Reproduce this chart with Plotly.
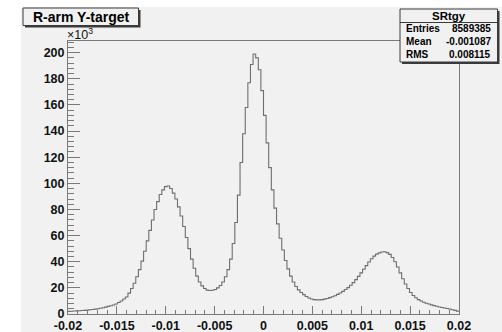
import numpy as np
import plotly.graph_objects as go

# Histogram SRtgy: R-arm target y, 150 bins on [-0.02, 0.02], counts in units of 10^3
x_min, x_max, n_bins = -0.02, 0.02, 150
counts_k = [
    2.0, 2.1, 2.3, 2.4, 2.5, 2.7, 2.8, 3.0, 3.2, 3.4,
    3.7, 4.0, 4.4, 4.8, 5.3, 5.8, 6.3, 6.9, 7.6, 8.8,
    10.0, 11.5, 13.0, 16.0, 19.5, 23.5, 28.5, 34.0, 40.5, 48.0,
    56.0, 64.0, 72.0, 80.0, 86.0, 91.5, 95.0, 97.5, 98.0, 96.0,
    92.5, 88.0, 82.0, 75.0, 67.0, 58.5, 50.0, 42.0, 35.0, 29.0,
    24.5, 21.5, 19.5, 18.3, 18.0, 18.2, 18.8, 20.0, 21.8, 24.5,
    28.5, 34.0, 42.0, 54.0, 70.0, 91.0, 116.0, 138.0, 158.0, 177.0,
    191.0, 199.0, 196.0, 187.0, 171.0, 152.0, 131.0, 112.0, 95.0, 81.0,
    69.0, 58.0, 49.0, 41.0, 34.5, 29.0, 24.5, 21.0, 18.5, 16.5,
    14.8, 13.4, 12.3, 11.5, 11.0, 10.8, 10.8, 11.0, 11.4, 11.9,
    12.5, 13.2, 14.0, 15.0, 16.1, 17.3, 18.7, 20.2, 22.0, 24.0,
    26.3, 28.8, 31.5, 34.2, 37.0, 39.8, 42.3, 44.3, 45.8, 46.8,
    47.4, 47.6, 47.0, 45.6, 43.3, 40.0, 36.0, 31.5, 27.0, 23.0,
    19.5, 16.5, 14.2, 12.4, 11.0, 9.9, 9.0, 8.2, 7.6, 7.0,
    6.4, 5.9, 5.4, 5.0, 4.6, 4.2, 3.8, 3.3, 2.8, 2.2,
]

x_tickvals = [-0.02, -0.015, -0.01, -0.005, 0, 0.005, 0.01, 0.015, 0.02]
x_ticktext = ["-0.02", "-0.015", "-0.01", "-0.005", "0", "0.005", "0.01", "0.015", "0.02"]
y_tickvals = [0, 20, 40, 60, 80, 100, 120, 140, 160, 180, 200]

hist_title = "R-arm Y-target"
stats_name = "SRtgy"
stats_labels = ["Entries", "Mean", "RMS"]
stats_values = ["8589385", "-0.001087", "0.008115"]

# canvas geometry (pixels)
W, H = 502, 332
L, R, T, B = 68, 459, 41, 314
BG = "#f1f1f1"
FONT = "Liberation Sans, Arial, Helvetica, sans-serif"


def px(p):
    return (p - L) / (R - L)


def py(p):
    return (B - p) / (B - T)


edges = np.linspace(x_min, x_max, n_bins + 1)
step_y = counts_k + [counts_k[-1]]

fig = go.Figure()
fig.add_trace(go.Scatter(
    x=edges, y=step_y, mode="lines", line_shape="hv",
    line=dict(color="#6e6e6e", width=1.1), hoverinfo="skip", showlegend=False,
))

axis_common = dict(
    showline=True, linecolor="#7a7a7a", linewidth=1, mirror=True,
    showgrid=False, zeroline=False, ticks="inside", tickcolor="#7a7a7a",
    tickwidth=1, automargin=False,
    tickfont=dict(family=FONT, size=12.5, color="#111", weight="bold"),
)

fig.update_xaxes(
    range=[x_min, x_max], tickvals=x_tickvals, ticktext=x_ticktext, ticklen=8,
    minor=dict(ticks="inside", ticklen=4, dtick=0.001, tick0=0, tickcolor="#7a7a7a"),
    **axis_common,
)
fig.update_yaxes(
    range=[0, max(counts_k) * 1.05], tickvals=y_tickvals, ticklen=12,
    minor=dict(ticks="inside", ticklen=6, dtick=4, tick0=0, tickcolor="#7a7a7a"),
    **axis_common,
)

shapes = [
    # canvas fill
    dict(type="rect", xref="paper", yref="paper", layer="below",
         x0=px(21), x1=px(W + 2), y0=py(7), y1=py(H + 2),
         fillcolor=BG, line=dict(width=0)),
    # title pave: shadow then box
    dict(type="rect", xref="paper", yref="paper",
         x0=px(25), x1=px(140.5), y0=py(27.5), y1=py(10),
         fillcolor="#3a3a3a", line=dict(width=0)),
    dict(type="rect", xref="paper", yref="paper",
         x0=px(23), x1=px(138.5), y0=py(25.5), y1=py(8),
         fillcolor=BG, line=dict(color="#3a3a3a", width=1)),
    # stats pave: shadow then box and separator
    dict(type="rect", xref="paper", yref="paper",
         x0=px(402), x1=px(499.5), y0=py(64), y1=py(11),
         fillcolor="#3a3a3a", line=dict(width=0)),
    dict(type="rect", xref="paper", yref="paper",
         x0=px(400), x1=px(497.5), y0=py(62), y1=py(9),
         fillcolor=BG, line=dict(color="#3a3a3a", width=1)),
    dict(type="line", xref="paper", yref="paper",
         x0=px(400), x1=px(497.5), y0=py(22.5), y1=py(22.5),
         line=dict(color="#3a3a3a", width=1)),
]

annotations = [
    dict(text=hist_title, xref="paper", yref="paper", x=px(81), y=py(17),
         xanchor="center", yanchor="middle", showarrow=False,
         font=dict(family=FONT, size=14, color="#000", weight="bold")),
    dict(text="\u00d710<sup>3</sup>", xref="paper", yref="paper", x=px(65), y=py(34),
         xanchor="left", yanchor="middle", showarrow=False,
         font=dict(family=FONT, size=12.5, color="#111")),
    dict(text=stats_name, xref="paper", yref="paper", x=px(449), y=py(15.5),
         xanchor="center", yanchor="middle", showarrow=False,
         font=dict(family=FONT, size=11.5, color="#000", weight="bold")),
]
for row_y, lab, val in zip([29, 41.7, 54.3], stats_labels, stats_values):
    annotations.append(dict(text=lab, xref="paper", yref="paper", x=px(404), y=py(row_y),
                            xanchor="left", yanchor="middle", showarrow=False,
                            font=dict(family=FONT, size=10, color="#000", weight="bold")))
    annotations.append(dict(text=val, xref="paper", yref="paper", x=px(493), y=py(row_y),
                            xanchor="right", yanchor="middle", showarrow=False,
                            font=dict(family=FONT, size=10, color="#000", weight="bold")))

fig.update_layout(
    template="none",
    width=W, height=H,
    margin=dict(l=L, r=W - R, t=T, b=H - B, pad=0),
    paper_bgcolor="white", plot_bgcolor=BG,
    shapes=shapes, annotations=annotations,
    showlegend=False,
)

fig.write_html("out.html")
